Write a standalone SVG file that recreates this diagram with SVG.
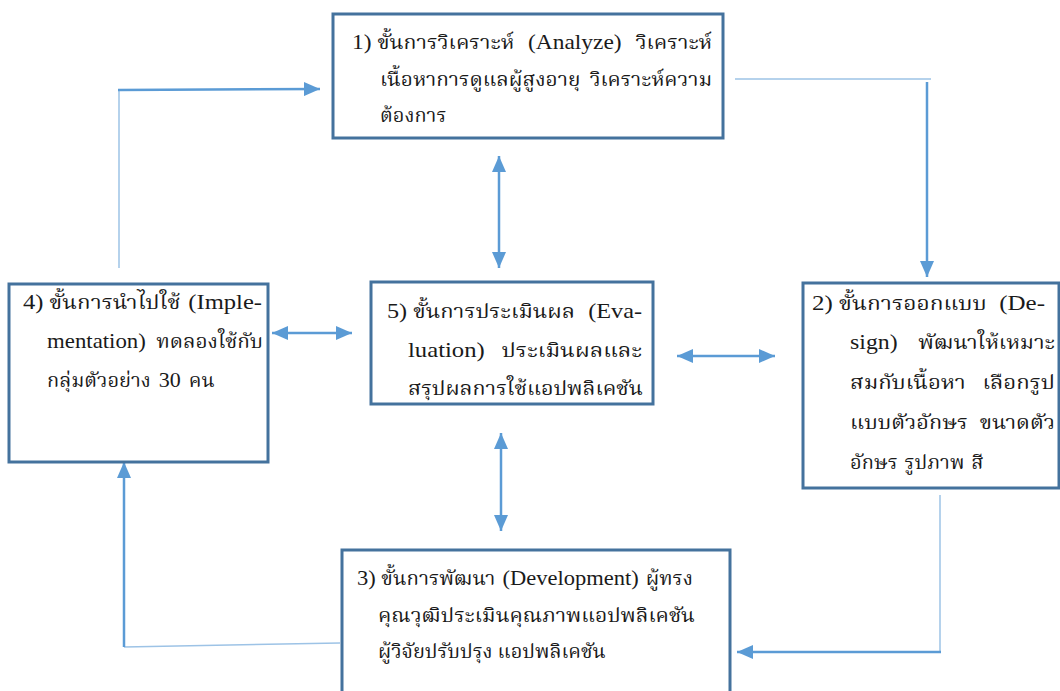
<svg xmlns="http://www.w3.org/2000/svg" width="1060" height="691" viewBox="0 0 1060 691">
<defs>
<style>
.box{fill:#ffffff;stroke:#44729d;stroke-width:3}
.t{font-family:"Liberation Serif","Noto Serif Thai","Noto Sans Thai","Loma","Garuda",serif;font-size:20px;fill:#1a1a1a}
.l{font-size:22px}
.n{font-size:22px;word-spacing:0}
.ar{stroke:#5b9bd5;stroke-width:2.5;fill:none}
.lt{stroke:#9dc3e6;stroke-width:1.5;fill:none}
</style>
<marker id="ah" viewBox="0 0 16 14" refX="16" refY="7" markerWidth="16" markerHeight="14" orient="auto-start-reverse" markerUnits="userSpaceOnUse">
<path d="M0,0 L16,7 L0,14 z" fill="#5b9bd5"/>
</marker>
</defs>
<rect width="1060" height="691" fill="#ffffff"/>
<g id="connectors">
<line class="lt" x1="119" y1="268" x2="119" y2="90"/>
<line class="ar" x1="118" y1="90" x2="320" y2="89" marker-end="url(#ah)"/>
<line class="lt" x1="735" y1="79" x2="931" y2="79"/>
<line class="ar" x1="927" y1="82" x2="927" y2="277" marker-end="url(#ah)"/>
<line class="ar" x1="499" y1="156" x2="499" y2="268" marker-start="url(#ah)" marker-end="url(#ah)"/>
<line class="ar" x1="272" y1="333" x2="352" y2="333" marker-start="url(#ah)" marker-end="url(#ah)"/>
<line class="ar" x1="677" y1="356" x2="775" y2="356" marker-start="url(#ah)" marker-end="url(#ah)"/>
<line class="ar" x1="501" y1="433" x2="501" y2="531" marker-start="url(#ah)" marker-end="url(#ah)"/>
<line class="lt" x1="340" y1="643" x2="124" y2="647"/>
<line class="ar" x1="124" y1="647" x2="124" y2="462" marker-end="url(#ah)"/>
<line class="lt" x1="940" y1="495" x2="940" y2="652"/>
<line class="ar" x1="941" y1="652" x2="737" y2="652" marker-end="url(#ah)"/>
</g>
<g id="node1">
<rect class="box" x="333" y="14" width="390" height="124"/>
<text class="t" x="352" y="49" word-spacing="8" textLength="360" lengthAdjust="spacingAndGlyphs"><tspan class="n">1) </tspan>ขั้นการวิเคราะห์ <tspan class="l">(Analyze)</tspan> วิเคราะห์</text>
<text class="t" x="380" y="86" word-spacing="4" textLength="332" lengthAdjust="spacingAndGlyphs">เนื้อหาการดูแลผู้สูงอายุ วิเคราะห์ความ</text>
<text class="t" x="380" y="122">ต้องการ</text>
</g>
<g id="node2">
<rect class="box" x="803" y="283" width="256" height="205"/>
<text class="t" x="812" y="310" word-spacing="6" textLength="233" lengthAdjust="spacingAndGlyphs"><tspan class="n">2) </tspan>ขั้นการออกแบบ <tspan class="l">(De-</tspan></text>
<text class="t" x="850" y="349" word-spacing="14" textLength="205" lengthAdjust="spacingAndGlyphs"><tspan class="l">sign)</tspan> พัฒนาให้เหมาะ</text>
<text class="t" x="850" y="389" word-spacing="10" textLength="205" lengthAdjust="spacingAndGlyphs">สมกับเนื้อหา เลือกรูป</text>
<text class="t" x="850" y="429" word-spacing="6" textLength="205" lengthAdjust="spacingAndGlyphs">แบบตัวอักษร ขนาดตัว</text>
<text class="t" x="850" y="469" word-spacing="2">อักษร รูปภาพ สี</text>
</g>
<g id="node3">
<rect class="box" x="342" y="550" width="388" height="160"/>
<text class="t" x="357" y="585" word-spacing="2" textLength="336" lengthAdjust="spacingAndGlyphs"><tspan class="n">3) </tspan>ขั้นการพัฒนา <tspan class="l">(Development)</tspan> ผู้ทรง</text>
<text class="t" x="378" y="622" textLength="317" lengthAdjust="spacingAndGlyphs">คุณวุฒิประเมินคุณภาพแอปพลิเคชัน</text>
<text class="t" x="378" y="658">ผู้วิจัยปรับปรุง แอปพลิเคชัน</text>
</g>
<g id="node4">
<rect class="box" x="9" y="284" width="259" height="178"/>
<text class="t" x="23" y="309" word-spacing="2" textLength="239" lengthAdjust="spacingAndGlyphs"><tspan class="n">4) </tspan>ขั้นการนำไปใช้ <tspan class="l">(Imple-</tspan></text>
<text class="t" x="47" y="348" word-spacing="5" textLength="216" lengthAdjust="spacingAndGlyphs"><tspan class="l">mentation)</tspan> ทดลองใช้กับ</text>
<text class="t" x="47" y="387" word-spacing="3">กลุ่มตัวอย่าง <tspan class="l">30</tspan> คน</text>
</g>
<g id="node5">
<rect class="box" x="371" y="282" width="282" height="122"/>
<text class="t" x="387" y="318" word-spacing="7" textLength="255" lengthAdjust="spacingAndGlyphs"><tspan class="n">5) </tspan>ขั้นการประเมินผล <tspan class="l">(Eva-</tspan></text>
<text class="t" x="408" y="357" word-spacing="10" textLength="234" lengthAdjust="spacingAndGlyphs"><tspan class="l">luation)</tspan> ประเมินผลและ</text>
<text class="t" x="408" y="395" textLength="235" lengthAdjust="spacingAndGlyphs">สรุปผลการใช้แอปพลิเคชัน</text>
</g>
</svg>
